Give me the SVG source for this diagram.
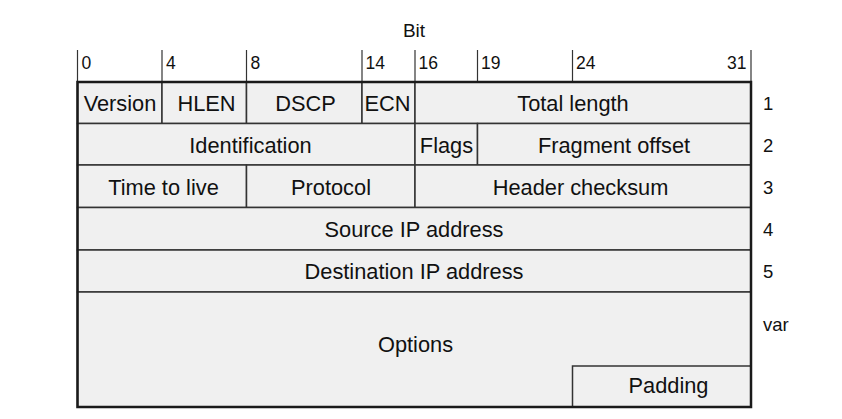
<svg xmlns="http://www.w3.org/2000/svg" width="842" height="419" viewBox="0 0 842 419">
  <style>
    .cell { fill: #f0f0f0; stroke: #333; stroke-width: 1.5; }
    .frame { fill: none; stroke: #1a1a1a; stroke-width: 2.5; }
    .tick { stroke: #333; stroke-width: 1.2; }
    .f { font-family: "Liberation Sans", Arial, Helvetica, sans-serif; font-size: 21.8px; fill: #111; text-anchor: middle; }
    .n { font-family: "Liberation Sans", Arial, Helvetica, sans-serif; font-size: 17.5px; fill: #111; }
    .t { font-family: "Liberation Sans", Arial, Helvetica, sans-serif; font-size: 19px; fill: #111; text-anchor: middle; }
    .r { font-family: "Liberation Sans", Arial, Helvetica, sans-serif; font-size: 18.5px; fill: #111; }
  </style>

  <!-- bit ruler -->
  <g id="ruler">
    <text class="t" x="414" y="37">Bit</text>
    <line class="tick" x1="77.5" y1="50" x2="77.5" y2="82"/>
    <line class="tick" x1="162" y1="50" x2="162" y2="82"/>
    <line class="tick" x1="246.5" y1="50" x2="246.5" y2="82"/>
    <line class="tick" x1="362" y1="50" x2="362" y2="82"/>
    <line class="tick" x1="415" y1="50" x2="415" y2="82"/>
    <line class="tick" x1="477.5" y1="50" x2="477.5" y2="82"/>
    <line class="tick" x1="572.5" y1="50" x2="572.5" y2="82"/>
    <line class="tick" x1="751" y1="50" x2="751" y2="82"/>
    <text class="n" x="81.5" y="68.5">0</text>
    <text class="n" x="166" y="68.5">4</text>
    <text class="n" x="250.5" y="68.5">8</text>
    <text class="n" x="365.5" y="68.5">14</text>
    <text class="n" x="418.5" y="68.5">16</text>
    <text class="n" x="481" y="68.5">19</text>
    <text class="n" x="576" y="68.5">24</text>
    <text class="n" x="746.5" y="68.5" text-anchor="end">31</text>
  </g>

  <!-- header fields -->
  <g id="version"><rect class="cell" x="77.5" y="82" width="84.5" height="41.5"/><text class="f" x="120" y="110.5">Version</text></g>
  <g id="hlen"><rect class="cell" x="162" y="82" width="84.5" height="41.5"/><text class="f" x="206.5" y="110.5">HLEN</text></g>
  <g id="dscp"><rect class="cell" x="246.5" y="82" width="115.5" height="41.5"/><text class="f" x="305.5" y="110.5">DSCP</text></g>
  <g id="ecn"><rect class="cell" x="362" y="82" width="53" height="41.5"/><text class="f" x="387.5" y="110.5">ECN</text></g>
  <g id="total-length"><rect class="cell" x="415" y="82" width="336" height="41.5"/><text class="f" x="573" y="110.5">Total length</text></g>

  <g id="identification"><rect class="cell" x="77.5" y="123.5" width="337.5" height="41.5"/><text class="f" x="250.5" y="152.5">Identification</text></g>
  <g id="flags"><rect class="cell" x="415" y="123.5" width="62.5" height="41.5"/><text class="f" x="446.5" y="152.5">Flags</text></g>
  <g id="fragment-offset"><rect class="cell" x="477.5" y="123.5" width="273.5" height="41.5"/><text class="f" x="614" y="152.5">Fragment offset</text></g>

  <g id="ttl"><rect class="cell" x="77.5" y="165" width="169" height="42.5"/><text class="f" x="163.5" y="194.5">Time to live</text></g>
  <g id="protocol"><rect class="cell" x="246.5" y="165" width="168.5" height="42.5"/><text class="f" x="331" y="194.5">Protocol</text></g>
  <g id="header-checksum"><rect class="cell" x="415" y="165" width="336" height="42.5"/><text class="f" x="580.5" y="194.5">Header checksum</text></g>

  <g id="source-ip"><rect class="cell" x="77.5" y="207.5" width="673.5" height="42.5"/><text class="f" x="414" y="236.5">Source IP address</text></g>
  <g id="destination-ip"><rect class="cell" x="77.5" y="250" width="673.5" height="42"/><text class="f" x="414" y="279">Destination IP address</text></g>

  <g id="options"><rect class="cell" x="77.5" y="292" width="673.5" height="115"/><text class="f" x="415.5" y="351.5">Options</text></g>
  <g id="padding"><rect class="cell" x="572.5" y="366" width="178.5" height="41"/><text class="f" x="668.5" y="392.5">Padding</text></g>

  <!-- outer frame -->
  <rect class="frame" x="77.5" y="82" width="673.5" height="325"/>

  <!-- word numbers -->
  <g id="rows">
    <text class="r" x="763" y="110">1</text>
    <text class="r" x="763" y="152">2</text>
    <text class="r" x="763" y="194">3</text>
    <text class="r" x="763" y="236">4</text>
    <text class="r" x="763" y="278">5</text>
    <text class="r" x="763" y="331">var</text>
  </g>
</svg>
